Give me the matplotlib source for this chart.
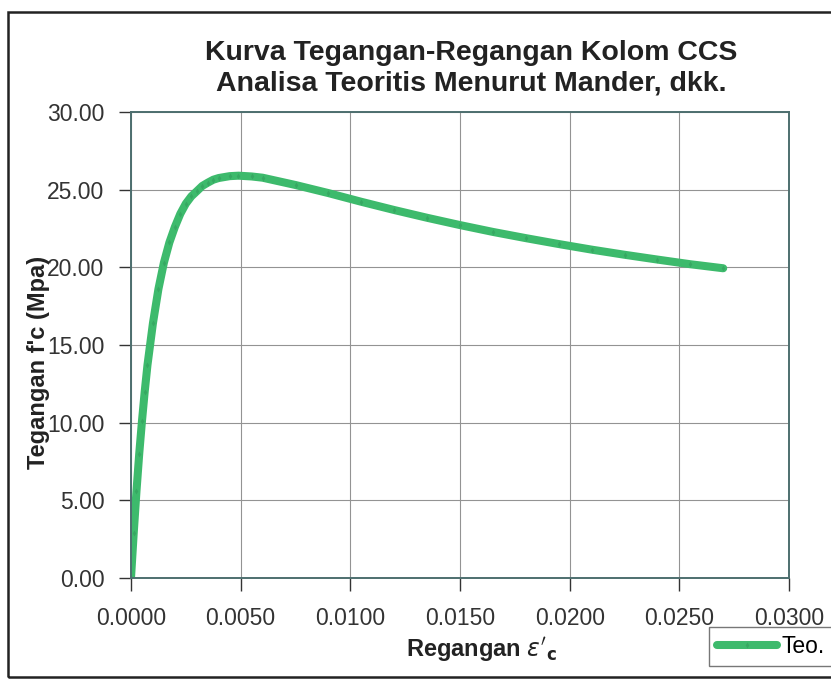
import matplotlib.pyplot as plt
from matplotlib.patches import Rectangle

plt.rcParams['font.family'] = ['Liberation Sans', 'DejaVu Sans']

# regangan (strain) dan tegangan (MPa), kurva teoritis Mander
regangan = [0.0, 0.000125, 0.00025, 0.000375, 0.0005, 0.000625, 0.00075,
            0.001, 0.00125, 0.0015, 0.00175, 0.002, 0.00225, 0.0025,
            0.00275, 0.003, 0.00325, 0.0035, 0.00375, 0.004, 0.0045,
            0.0049, 0.0055, 0.006, 0.0075, 0.009, 0.0105, 0.012, 0.0135,
            0.015, 0.0165, 0.018, 0.0195, 0.021, 0.0225, 0.024, 0.0255,
            0.027]
tegangan = [0.0, 2.92, 5.6, 8.0, 10.1, 12.0, 13.7,
            16.4, 18.6, 20.3, 21.6, 22.6, 23.45, 24.1,
            24.57, 24.9, 25.24, 25.45, 25.64, 25.75, 25.87,
            25.9, 25.85, 25.77, 25.3, 24.78, 24.22, 23.69, 23.19,
            22.72, 22.28, 21.88, 21.5, 21.14, 20.81, 20.5, 20.2,
            19.94]

xticks = [0.0, 0.005, 0.010, 0.015, 0.020, 0.025, 0.030]
yticks = [0, 5, 10, 15, 20, 25, 30]

fig = plt.figure(figsize=(8.31, 6.79), dpi=100)
fig.patches.append(Rectangle((8 / 831, 2 / 679), 1.0, 665 / 679,
                             transform=fig.transFigure, fill=False,
                             edgecolor='#222222', linewidth=1.8))

ax = fig.add_axes([131 / 831, 101 / 679, 658 / 831, 466 / 679])
ax.plot(regangan, tegangan, color='#3dba6c', linewidth=5.8,
        solid_capstyle='round', solid_joinstyle='round', marker='d',
        markersize=3, markerfacecolor='#36a862', markeredgewidth=0,
        label='Teo.')

ax.set_xlim(0, 0.03)
ax.set_ylim(0, 30)
ax.set_xticks(xticks)
ax.set_yticks(yticks)
ax.set_xticklabels([f'{v:.4f}' for v in xticks])
ax.set_yticklabels([f'{v:.2f}' for v in yticks])
ax.tick_params(labelsize=16.5, colors='#333333', length=9, width=1,
               direction='out')
ax.tick_params(axis='y', pad=10)
ax.tick_params(axis='x', pad=12)
ax.grid(True, color='#939393', linewidth=0.8)
for side, sp in ax.spines.items():
    sp.set_color('#4d6f6f')
    sp.set_linewidth(1.4)

ax.set_xlabel(r"Regangan $\mathit{\varepsilon}'_{\mathbf{c}}$", fontsize=17,
              fontweight='bold', color='#222222')
ax.xaxis.set_label_coords(0.532, -0.122)
ax.set_ylabel("Tegangan f'c (Mpa)", fontsize=17, fontweight='bold',
              color='#222222')
ax.yaxis.set_label_coords(-0.123, 0.4635)
fig.text(471 / 831, 1 - 68 / 679,
         'Kurva Tegangan-Regangan Kolom CCS\nAnalisa Teoritis Menurut Mander, dkk.',
         ha='center', va='center', fontsize=20.5, fontweight='bold',
         color='#222222', linespacing=1.22)

leg = fig.legend(loc='lower left', bbox_to_anchor=(709 / 831, 13 / 679),
                 fontsize=16.5, frameon=True, fancybox=False,
                 handlelength=2.6, borderpad=0.35, handletextpad=0.2,
                 borderaxespad=0)
leg.get_frame().set_edgecolor('#555555')
leg.get_frame().set_linewidth(1.0)

fig.savefig('out.png', dpi=100)
